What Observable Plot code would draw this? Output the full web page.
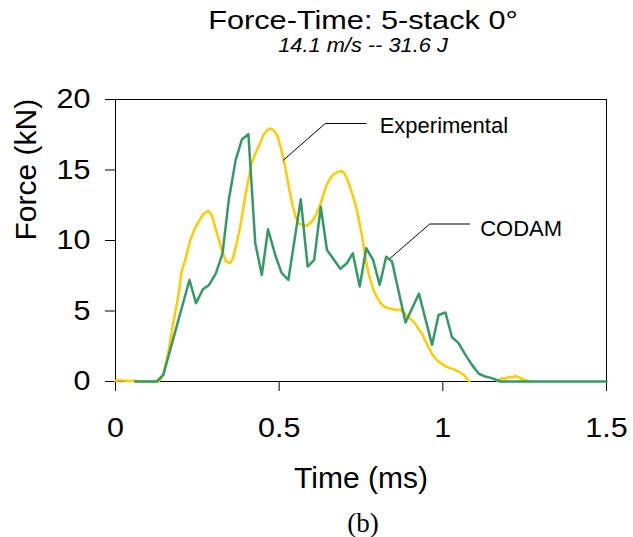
<!DOCTYPE html>
<html>
<head>
<meta charset="utf-8">
<script src="https://cdn.jsdelivr.net/npm/d3@7"></script>
<script src="https://cdn.jsdelivr.net/npm/@observablehq/plot@0.6"></script>
<style>
  body { margin: 0; background: #fff; }
  #wrap { position: relative; width: 633px; height: 537px; overflow: hidden; font-family: "Liberation Sans", Arial, sans-serif; color: #000; }
  .ctr { position: absolute; left: 0; width: 726px; text-align: center; white-space: nowrap; }
  /* baseline = top + L/2 + 0.3465*fontSize */
  #title { top: 8px; font-size: 26px; line-height: 24px; height: 24px; transform: scaleX(1.18); }
  #subtitle { top: 37px; font-size: 20px; line-height: 16px; height: 16px; font-style: italic; transform: scaleX(1.09); }
  #caption { top: 510px; font-size: 27px; line-height: 27px; font-family: "Liberation Serif", "Times New Roman", serif; }
  #chart { position: absolute; left: 0; top: 60px; }
</style>
</head>
<body>
<div id="wrap">
  <div id="title" class="ctr">Force-Time: 5-stack 0°</div>
  <div id="subtitle" class="ctr">14.1 m/s -- 31.6 J</div>
  <div id="chart"></div>
  <div id="caption" class="ctr">(b)</div>
</div>
<script>
// ---- Data (time in ms, force in kN); null = no visible trace ----
const expTime = [0, 0.02, 0.04, 0.06, 0.08, 0.13, 0.137, 0.146, 0.161, 0.177, 0.192, 0.202, 0.213, 0.228, 0.243, 0.256, 0.269, 0.284, 0.294, 0.309, 0.325, 0.338, 0.350, 0.358, 0.368, 0.381, 0.396, 0.406, 0.416, 0.428, 0.440, 0.452, 0.462, 0.473, 0.484, 0.495, 0.505, 0.515, 0.524, 0.532, 0.541, 0.550, 0.560, 0.572, 0.585, 0.600, 0.612, 0.625, 0.636, 0.646, 0.656, 0.666, 0.678, 0.689, 0.698, 0.707, 0.715, 0.722, 0.730, 0.738, 0.745, 0.750, 0.756, 0.762, 0.768, 0.775, 0.788, 0.800, 0.812, 0.822, 0.834, 0.845, 0.858, 0.870, 0.881, 0.892, 0.905, 0.916, 0.926, 0.936, 0.946, 0.957, 0.967, 0.977, 0.987, 1.000, 1.013, 1.023, 1.033, 1.043, 1.053, 1.062, 1.069, 1.075, 1.081, 1.12, 1.166, 1.181, 1.191, 1.201, 1.212, 1.222, 1.230, 1.237, 1.248, 1.258, 1.265];
const expForce = [0.05, 0.08, 0.03, 0.06, 0, 0, 0.12, 0.5, 2.0, 4.2, 6.1, 7.8, 8.6, 10.0, 10.9, 11.4, 11.9, 12.1, 11.8, 10.6, 9.3, 8.5, 8.4, 8.7, 9.6, 11.0, 13.1, 14.3, 15.5, 16.2, 16.8, 17.5, 17.8, 17.95, 17.8, 17.4, 16.6, 15.6, 14.5, 13.5, 12.5, 11.7, 11.2, 11.1, 11.05, 11.35, 11.8, 12.5, 13.3, 14.0, 14.4, 14.7, 14.85, 14.94, 14.8, 14.4, 13.9, 13.4, 12.8, 12.1, 11.3, 10.7, 9.9, 9.0, 8.2, 7.5, 6.5, 5.9, 5.5, 5.3, 5.2, 5.15, 5.05, 5.1, 4.9, 4.6, 4.35, 4.1, 3.7, 3.4, 2.9, 2.4, 1.95, 1.65, 1.4, 1.2, 1.02, 0.95, 0.88, 0.75, 0.64, 0.5, 0.35, 0.15, 0, null, 0, 0.24, 0.2, 0.31, 0.28, 0.4, 0.3, 0.24, 0.12, 0.05, 0];

const codamTime = [0.06, 0.126, 0.146, 0.226, 0.246, 0.267, 0.286, 0.307, 0.327, 0.346, 0.367, 0.386, 0.406, 0.427, 0.447, 0.466, 0.488, 0.507, 0.528, 0.566, 0.587, 0.607, 0.627, 0.646, 0.687, 0.707, 0.725, 0.746, 0.766, 0.787, 0.807, 0.827, 0.845, 0.886, 0.927, 0.967, 0.987, 1.008, 1.028, 1.048, 1.069, 1.089, 1.110, 1.130, 1.150, 1.176, 1.5];
const codamForce = [0, 0, 0.47, 7.2, 5.55, 6.54, 6.85, 7.68, 9.09, 12.87, 15.70, 17.16, 17.54, 9.80, 7.56, 10.79, 8.97, 7.72, 7.2, 12.92, 8.15, 8.62, 12.39, 9.33, 8.0, 8.39, 9.09, 6.73, 9.45, 8.62, 6.85, 8.85, 8.5, 4.19, 6.24, 2.6, 4.72, 4.89, 3.14, 2.72, 1.89, 1.18, 0.55, 0.35, 0.24, 0, 0];

// annotation leader lines and labels
const expLeaderTime = [0.513, 0.641, 0.766];
const expLeaderForce = [15.70, 18.30, 18.30];
const codamLeaderTime = [0.839, 0.960, 1.082];
const codamLeaderForce = [8.74, 11.17, 11.17];
const labelText = ["Experimental", "CODAM"];
const labelTime = [0.807, 1.114];
const labelForce = [18.1, 10.8];

const xTicks = [0, 0.5, 1, 1.5];
const yTicks = [0, 5, 10, 15, 20];

const expData = expTime.map((t, i) => ({t, f: expForce[i] === null ? NaN : expForce[i]}));
const codamData = codamTime.map((t, i) => ({t, f: codamForce[i]}));
const expLeader = expLeaderTime.map((t, i) => ({t, f: expLeaderForce[i]}));
const codamLeader = codamLeaderTime.map((t, i) => ({t, f: codamLeaderForce[i]}));
const labels = labelText.map((s, i) => ({s, t: labelTime[i], f: labelForce[i]}));

const chart = Plot.plot({
  width: 633,
  height: 440,
  marginTop: 39,
  marginLeft: 115,
  marginRight: 27,
  marginBottom: 119,
  style: {fontFamily: "'Liberation Sans', Arial, sans-serif", fontSize: "28px", color: "#000", background: "transparent", overflow: "visible"},
  x: {domain: [0, 1.5]},
  y: {domain: [0, 20]},
  marks: [
    Plot.frame({stroke: "#000"}),
    Plot.axisX({ticks: xTicks, tickFormat: d => String(d), tickSize: 10, tickPadding: 26, label: null, fontSize: 28, stroke: "#000"}),
    Plot.axisY({ticks: yTicks, tickFormat: d => String(d), tickSize: 10, tickPadding: 15, label: null, fontSize: 28, stroke: "#000"}),
    Plot.text(["Time (ms)"], {text: d => d, frameAnchor: "bottom", dy: 97, fontSize: 30, lineAnchor: "middle", fill: "#000"}),
    Plot.text(["Force (kN)"], {text: d => d, frameAnchor: "left", dx: -89.5, rotate: -90, fontSize: 30, lineAnchor: "middle", fill: "#000"}),
    Plot.line(expData, {x: "t", y: "f", stroke: "#FFCC00", strokeWidth: 2.5}),
    Plot.line(codamData, {x: "t", y: "f", stroke: "#339966", strokeWidth: 2.5}),
    Plot.line(expLeader, {x: "t", y: "f", stroke: "#000", strokeWidth: 1}),
    Plot.line(codamLeader, {x: "t", y: "f", stroke: "#000", strokeWidth: 1}),
    Plot.text(labels, {x: "t", y: "f", text: "s", textAnchor: "start", lineAnchor: "middle", fontSize: 22, fill: "#000"})
  ]
});

// slight horizontal stretch of tick labels, as in the reference
chart.querySelectorAll('g[aria-label="x-axis tick label"] text, g[aria-label="y-axis tick label"] text').forEach(el => {
  const tr = el.getAttribute("transform");
  if (tr) {
    el.setAttribute("transform", tr + " scale(1.09,1)");
  } else {
    const x = +el.getAttribute("x") || 0, y = +el.getAttribute("y") || 0;
    el.removeAttribute("x"); el.removeAttribute("y");
    el.setAttribute("transform", `translate(${x},${y}) scale(1.09,1)`);
  }
});

document.getElementById("chart").appendChild(chart);
</script>
</body>
</html>
